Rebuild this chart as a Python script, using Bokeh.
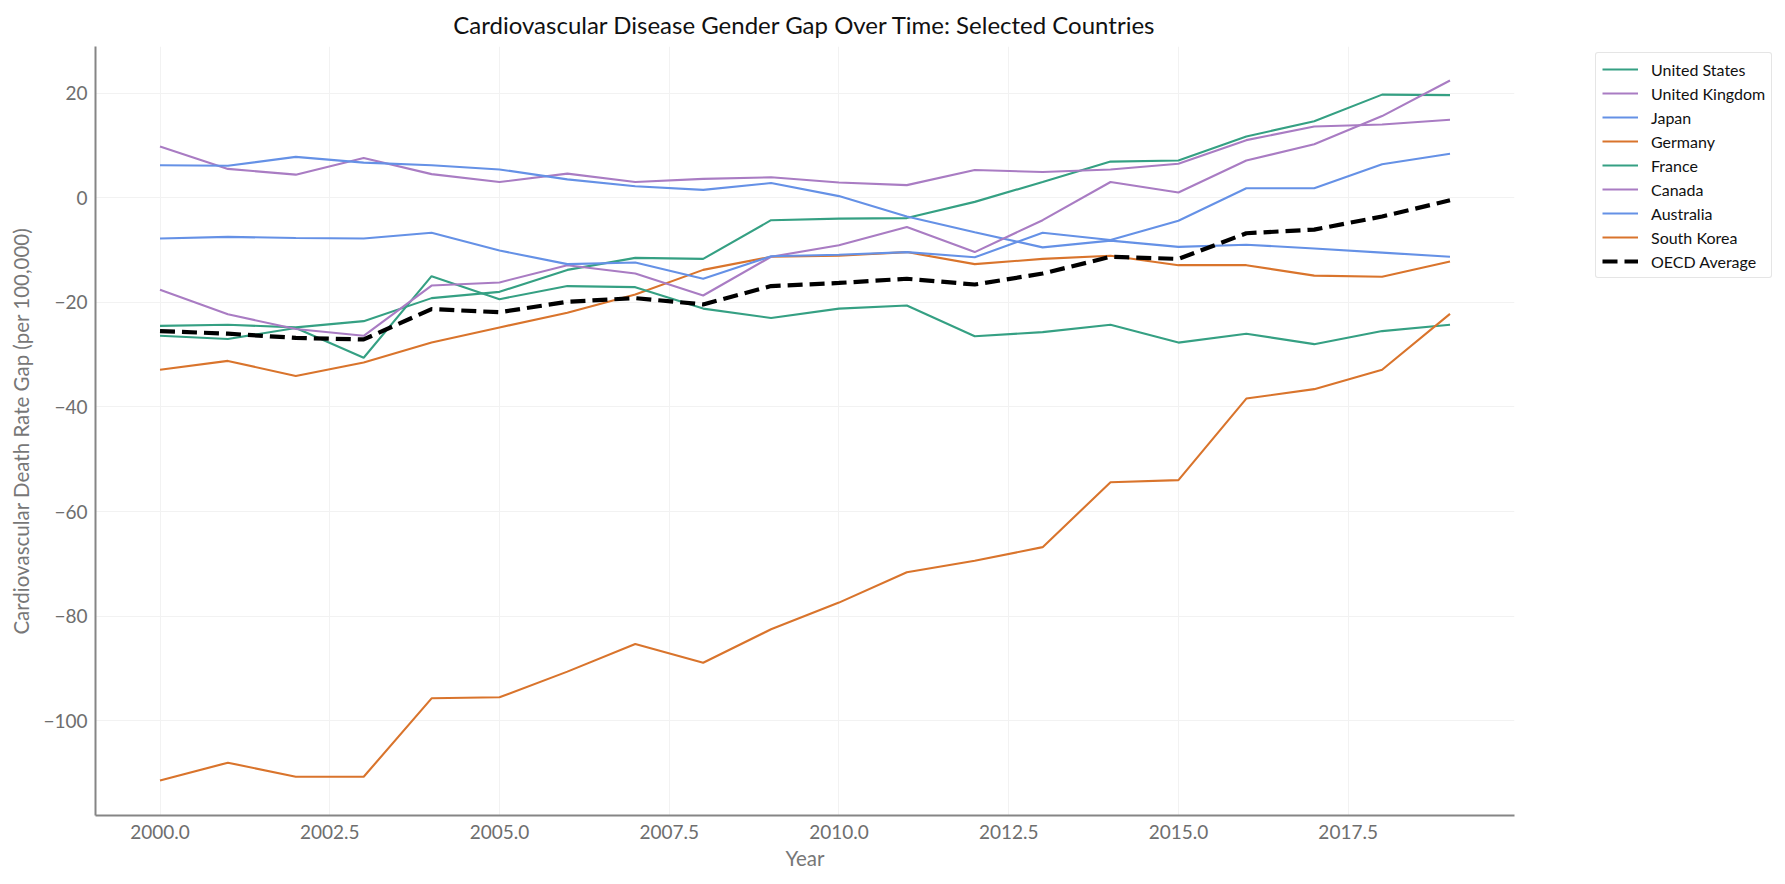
from bokeh.plotting import figure
from bokeh.models import Range1d, FixedTicker, NumeralTickFormatter, Legend, LegendItem
from bokeh.embed import file_html
from bokeh.resources import INLINE

years = list(range(2000, 2020))

united_states = [-24.5, -24.3, -24.8, -23.6, -19.2, -18.0, -13.8, -11.5, -11.7, -4.3,
                 -4.0, -3.9, -0.8, 3.0, 6.9, 7.1, 11.7, 14.6, 19.7, 19.6]
united_kingdom = [9.8, 5.5, 4.4, 7.6, 4.5, 3.0, 4.6, 3.0, 3.6, 3.9,
                  2.9, 2.4, 5.3, 4.9, 5.4, 6.5, 11.0, 13.6, 14.0, 14.9]
japan = [6.2, 6.1, 7.8, 6.7, 6.2, 5.4, 3.5, 2.2, 1.5, 2.8,
         0.3, -3.6, -6.6, -9.5, -8.2, -9.4, -9.0, -9.7, -10.5, -11.3]
germany = [-32.9, -31.2, -34.1, -31.5, -27.7, -24.8, -22.0, -18.5, -13.8, -11.3,
           -11.1, -10.4, -12.7, -11.7, -11.1, -12.9, -12.9, -14.9, -15.1, -12.2]
france = [-26.4, -27.0, -24.9, -30.6, -15.0, -19.4, -16.9, -17.1, -21.2, -23.0,
          -21.2, -20.6, -26.5, -25.7, -24.3, -27.7, -26.0, -28.0, -25.5, -24.3]
canada = [-17.6, -22.3, -25.1, -26.4, -16.8, -16.2, -12.9, -14.5, -18.7, -11.3,
          -9.1, -5.6, -10.4, -4.3, 3.0, 1.0, 7.1, 10.2, 15.6, 22.4]
australia = [-7.8, -7.5, -7.7, -7.8, -6.7, -10.1, -12.7, -12.4, -15.5, -11.2,
             -10.9, -10.4, -11.4, -6.7, -8.1, -4.4, 1.8, 1.8, 6.4, 8.4]
south_korea = [-111.4, -108.0, -110.7, -110.7, -95.7, -95.5, -90.6, -85.3, -88.9, -82.5,
               -77.4, -71.6, -69.4, -66.8, -54.4, -54.0, -38.4, -36.6, -32.9, -22.2]
oecd_average = [-25.5, -26.0, -26.8, -27.1, -21.3, -21.9, -19.9, -19.2, -20.4, -16.9,
                -16.3, -15.5, -16.6, -14.5, -11.3, -11.7, -6.8, -6.1, -3.6, -0.5]

series_names = ["United States", "United Kingdom", "Japan", "Germany",
                "France", "Canada", "Australia", "South Korea"]
series_values = [united_states, united_kingdom, japan, germany,
                 france, canada, australia, south_korea]
palette = ["#35a083", "#a97cc3", "#6591e6", "#d9742c"]

x_ticks = [2000.0, 2002.5, 2005.0, 2007.5, 2010.0, 2012.5, 2015.0, 2017.5]
y_ticks = [-100, -80, -60, -40, -20, 0, 20]
y_tick_labels = ["\u2212100", "\u221280", "\u221260", "\u221240", "\u221220", "0", "20"]

FONT = "Lato"
FRAME_W = 1419
FRAME_H = 769

p = figure(frame_width=FRAME_W, frame_height=FRAME_H,
           output_backend="svg", toolbar_location=None,
           x_range=Range1d(1999.05, 2019.95), y_range=Range1d(-118.1, 28.9),
           min_border_left=95, min_border_right=0, min_border_top=46, min_border_bottom=0)

p.title.text = "Cardiovascular Disease Gender Gap Over Time: Selected Countries"
p.title.align = "center"
p.title.text_font = FONT
p.title.text_font_size = "24px"
p.title.text_font_style = "normal"
p.title.text_color = "#111111"
p.title.standoff = 15

items = []
for i, (name, vals) in enumerate(zip(series_names, series_values)):
    r = p.line(years, vals, line_color=palette[i % 4], line_width=2.1)
    items.append(LegendItem(label=name, renderers=[r]))
r = p.line(years, oecd_average, line_color="black", line_width=4.2, line_dash="15 7")
items.append(LegendItem(label="OECD Average", renderers=[r]))

legend = Legend(items=items, location=(81, FRAME_H - 8 - 224))
legend.label_text_font = FONT
legend.label_text_font_size = "16px"
legend.label_text_color = "#111111"
legend.glyph_width = 36
legend.glyph_height = 20
legend.label_height = 20
legend.label_standoff = 13
legend.spacing = 4
legend.padding = 6
legend.margin = 42
legend.border_line_color = "#cccccc"
legend.border_line_width = 1.5
legend.border_radius = 3
legend.background_fill_color = "white"
legend.background_fill_alpha = 1.0
p.add_layout(legend, "right")

for ax in (p.xaxis[0], p.yaxis[0]):
    ax.axis_line_color = "#858585"
    ax.axis_line_width = 2
    ax.major_tick_line_color = None
    ax.minor_tick_line_color = None
    ax.major_tick_out = 0
    ax.major_tick_in = 0
    ax.minor_tick_out = 0
    ax.minor_tick_in = 0
    ax.major_label_text_font = FONT
    ax.major_label_text_font_size = "19px"
    ax.major_label_text_color = "#6e6e6e"
    ax.axis_label_text_font = FONT
    ax.axis_label_text_font_size = "20.5px"
    ax.axis_label_text_color = "#777777"
    ax.axis_label_text_font_style = "normal"

p.xaxis.ticker = FixedTicker(ticks=x_ticks)
p.xaxis.formatter = NumeralTickFormatter(format="0.0")
p.xaxis.axis_label = "Year"
p.xaxis.major_label_standoff = 9
p.xaxis.axis_label_standoff = 4

p.yaxis.ticker = FixedTicker(ticks=y_ticks)
p.yaxis.major_label_overrides = {float(t): lab for t, lab in zip(y_ticks, y_tick_labels)}
p.yaxis.axis_label = "Cardiovascular Death Rate Gap (per 100,000)"
p.yaxis.major_label_standoff = 8
p.yaxis.axis_label_standoff = 7

p.xgrid.ticker = FixedTicker(ticks=x_ticks)
p.ygrid.ticker = FixedTicker(ticks=y_ticks)
p.grid.grid_line_color = "#f2f2f2"
p.grid.grid_line_width = 1

p.outline_line_color = None
p.background_fill_color = "white"
p.border_fill_color = "white"

open("out.html", "w").write(file_html(p, INLINE))
